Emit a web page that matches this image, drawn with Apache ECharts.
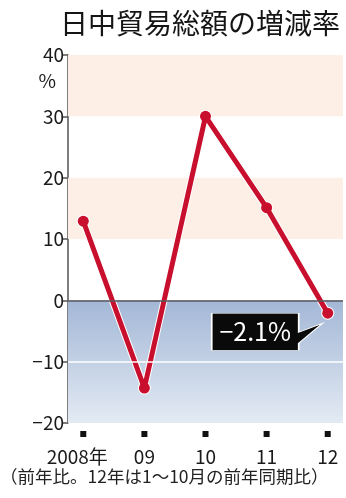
<!DOCTYPE html>
<html>
<head>
<meta charset="utf-8">
<script src="https://cdn.jsdelivr.net/npm/echarts@6/dist/echarts.min.js"></script>
<style>
  html, body { margin: 0; padding: 0; background: #fff; }
  #chart { width: 346px; height: 498px; }
</style>
</head>
<body>
<div id="chart"></div>
<script>
// 日中貿易総額の増減率（前年比, %）
const years = ['2008年', '09', '10', '11', '12'];
const changeRate = [12.9, -14.3, 30.0, 15.1, -2.1];
const yTicks = { min: -20, max: 40, step: 10 };
const titleText = '日中貿易総額の増減率';
const noteText = '（前年比。12年は1～10月の前年同期比）';

const FONT = '"Noto Sans CJK JP", "Noto Sans", sans-serif';
const RED = '#c8102e';

const minusSign = s => String(s).replace('-', '−');
const fmtPct = v => (v < 0 ? '−' : '') + Math.abs(v).toFixed(1) + '%';

const chart = echarts.init(document.getElementById('chart'), null, { renderer: 'canvas' });
const lastIdx = changeRate.length - 1;

chart.setOption({
  animation: false,
  backgroundColor: '#fff',
  title: [
    {
      text: titleText, left: 60, top: 9, padding: 0,
      textStyle: { fontFamily: FONT, fontSize: 28, fontWeight: 'normal', color: '#151515' }
    },
    {
      text: noteText, left: 0, top: 468, padding: 0,
      textStyle: { fontFamily: FONT, fontSize: 17.5, fontWeight: 'normal', color: '#222' }
    }
  ],
  grid: { left: 68, right: 0, top: 55, bottom: 75, containLabel: false },
  xAxis: {
    type: 'value', min: -0.25, max: 4.25, interval: 0.25,
    axisLine: { show: false }, axisTick: { show: false }, splitLine: { show: false },
    axisLabel: {
      margin: 4,
      formatter: v => {
        if (!Number.isInteger(v) || v < 0 || v >= years.length) return '';
        return '{sq|}\n' + (v === 0 ? '{t0|' : '{t|') + years[v] + '}';
      },
      rich: {
        sq: { width: 6, height: 6, backgroundColor: '#111', lineHeight: 14 },
        t: { fontFamily: FONT, fontSize: 19, color: '#1a1a1a', lineHeight: 32 },
        t0: { fontFamily: FONT, fontSize: 19, color: '#1a1a1a', lineHeight: 32, padding: [0, 12, 0, 0] }
      }
    }
  },
  yAxis: {
    type: 'value', min: yTicks.min, max: yTicks.max, interval: yTicks.step,
    name: '%', nameLocation: 'end', nameGap: -26,
    nameTextStyle: { fontFamily: FONT, fontSize: 19, color: '#1a1a1a', align: 'right', verticalAlign: 'middle', padding: [0, 12, 0, 0] },
    axisLine: { show: true, onZero: false, lineStyle: { color: '#555', width: 1.5 } },
    axisTick: { show: true, length: 5, lineStyle: { color: '#555', width: 1.5 } },
    splitLine: { show: false },
    axisLabel: { fontFamily: FONT, fontSize: 19, color: '#1a1a1a', margin: 4, formatter: v => minusSign(v) }
  },
  series: [
    {
      // background bands
      type: 'line', data: [], z: 1, silent: true,
      markArea: {
        silent: true,
        data: [
          [{ yAxis: 30, itemStyle: { color: '#fdeee6' } }, { yAxis: 40 }],
          [{ yAxis: 10, itemStyle: { color: '#fdeee6' } }, { yAxis: 20 }],
          [{
            yAxis: 0,
            itemStyle: {
              color: new echarts.graphic.LinearGradient(0, 0, 0, 1, [
                { offset: 0, color: '#a3b7d6' },
                { offset: 1, color: '#e3eaf3' }
              ])
            }
          }, { yAxis: -20 }]
        ]
      }
    },
    {
      // reference lines
      type: 'line', data: [], z: 2, silent: true,
      markLine: {
        silent: true, symbol: 'none', label: { show: false },
        data: [
          { yAxis: 0, lineStyle: { color: '#5a5a5a', width: 1.5, type: 'solid' } },
          { yAxis: -10, lineStyle: { color: '#ffffff', width: 1.5, type: 'solid' } }
        ]
      }
    },
    {
      // white halo under the line
      type: 'line', z: 3, silent: true,
      data: changeRate.map((v, i) => [i, v]),
      symbol: 'circle', symbolSize: 13,
      itemStyle: { color: '#fff' },
      lineStyle: { color: '#fff', width: 7 }
    },
    {
      type: 'line', z: 4,
      data: changeRate.map((v, i) => [i, v]),
      symbol: 'circle', symbolSize: 11,
      itemStyle: { color: RED },
      lineStyle: { color: RED, width: 5 },
      markPoint: {
        silent: true,
        symbol: 'path://M0,0 L87,0 L87,19 L111,10 L87,30 L87,37 L0,37 Z',
        symbolSize: [111, 37],
        symbolKeepAspect: false,
        symbolOffset: [-60.5, 18.5],
        itemStyle: { color: '#0a0a0a', borderColor: '#fff', borderWidth: 1 },
        label: {
          show: true, position: 'inside', offset: [-12, 0],
          fontFamily: FONT, fontSize: 25, color: '#fff',
          formatter: p => fmtPct(p.value)
        },
        data: [{ coord: [lastIdx, changeRate[lastIdx]], value: changeRate[lastIdx] }]
      }
    }
  ]
});
</script>
</body>
</html>
